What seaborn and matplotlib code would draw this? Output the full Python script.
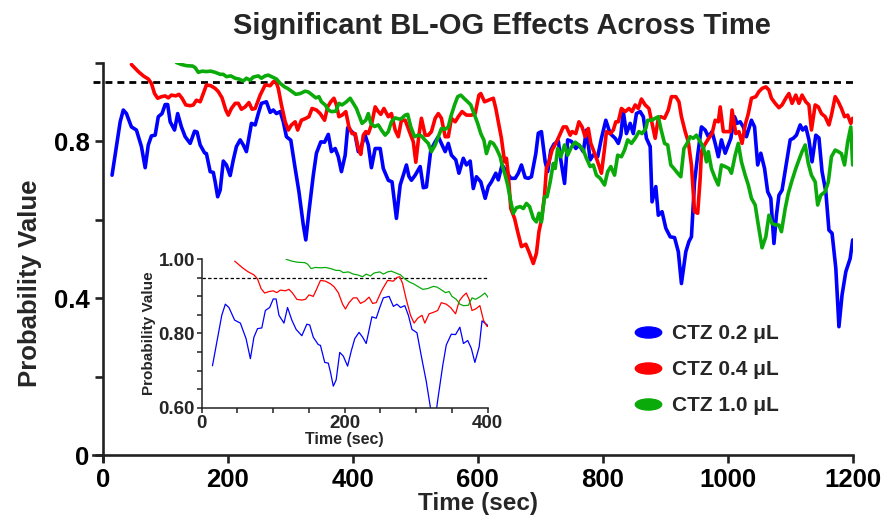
import numpy as np
import pandas as pd
import matplotlib
matplotlib.use("Agg")
import matplotlib.pyplot as plt
import seaborn as sns
from matplotlib.path import Path
from matplotlib.lines import Line2D
from matplotlib.ticker import MultipleLocator

# ---------------- data ----------------
series_names = ["CTZ 0.2 \u03bcL", "CTZ 0.4 \u03bcL", "CTZ 1.0 \u03bcL"]
series_colors = ["#0000FF", "#FF0000", "#0BAA0B"]

t_02 = [15, 28, 33, 38, 46, 54, 62, 68, 73, 78, 84, 89, 95, 100, 104, 108, 115, 120, 126, 132,
        140, 147, 151, 156, 163, 166, 172, 177, 180, 184, 188, 193, 198, 204, 209, 214, 220, 225, 230, 238,
        244, 249, 254, 262, 268, 273, 278, 284, 289, 294, 301, 308, 314, 321, 325, 330, 337, 342, 349, 355,
        361, 366, 372, 377, 382, 388, 392, 398, 404, 409, 413, 420, 425, 430, 436, 444, 449, 457, 463, 470,
        476, 481, 486, 490, 494, 500, 508, 513, 518, 525, 532, 537, 542, 548, 553, 558, 565, 570, 577, 582,
        588, 593, 598, 605, 612, 617, 622, 629, 633, 639, 646, 653, 660, 665, 670, 676, 681, 686, 693, 697,
        702, 708, 712, 717, 722, 729, 733, 739, 744, 750, 757, 762, 769, 774, 780, 785, 792, 798, 805, 812,
        820, 825, 829, 833, 838, 844, 849, 854, 860, 865, 870, 876, 879, 885, 889, 895, 901, 908, 915, 921,
        926, 933, 938, 942, 947, 952, 958, 964, 969, 975, 980, 985, 990, 996, 1000, 1005, 1011, 1015, 1020, 1025,
        1030, 1038, 1043, 1048, 1053, 1059, 1064, 1069, 1074, 1078, 1082, 1087, 1094, 1100, 1105, 1110, 1116, 1120, 1125, 1130,
        1135, 1141, 1146, 1151, 1157, 1162, 1167, 1173, 1178, 1183, 1189, 1196, 1200]
p_02 = [0.713, 0.849, 0.879, 0.870, 0.836, 0.828, 0.786, 0.732, 0.790, 0.813, 0.815, 0.862, 0.870, 0.893, 0.893, 0.849, 0.828, 0.870, 0.836, 0.811,
        0.794, 0.825, 0.823, 0.790, 0.770, 0.768, 0.722, 0.720, 0.696, 0.658, 0.675, 0.749, 0.739, 0.712, 0.752, 0.786, 0.803, 0.790, 0.773, 0.845,
        0.841, 0.870, 0.896, 0.900, 0.873, 0.879, 0.870, 0.875, 0.849, 0.811, 0.802, 0.730, 0.671, 0.586, 0.548, 0.620, 0.713, 0.769, 0.798, 0.797,
        0.817, 0.773, 0.781, 0.760, 0.722, 0.764, 0.834, 0.825, 0.815, 0.773, 0.783, 0.815, 0.790, 0.732, 0.781, 0.781, 0.730, 0.700, 0.696, 0.603,
        0.688, 0.713, 0.739, 0.710, 0.700, 0.713, 0.735, 0.681, 0.683, 0.777, 0.798, 0.811, 0.794, 0.773, 0.794, 0.764, 0.752, 0.718, 0.756, 0.739,
        0.749, 0.679, 0.709, 0.696, 0.654, 0.684, 0.696, 0.718, 0.701, 0.739, 0.722, 0.705, 0.705, 0.718, 0.739, 0.707, 0.705, 0.709, 0.768, 0.820,
        0.824, 0.747, 0.722, 0.777, 0.792, 0.800, 0.752, 0.692, 0.803, 0.799, 0.781, 0.790, 0.773, 0.828, 0.752, 0.765, 0.760, 0.807, 0.853, 0.819,
        0.807, 0.794, 0.815, 0.875, 0.819, 0.845, 0.819, 0.870, 0.875, 0.862, 0.807, 0.786, 0.645, 0.684, 0.611, 0.620, 0.578, 0.556, 0.554, 0.518,
        0.437, 0.518, 0.544, 0.556, 0.696, 0.764, 0.836, 0.828, 0.811, 0.824, 0.794, 0.760, 0.803, 0.769, 0.786, 0.807, 0.862, 0.845, 0.849, 0.836,
        0.811, 0.853, 0.836, 0.739, 0.769, 0.730, 0.671, 0.654, 0.539, 0.611, 0.662, 0.675, 0.743, 0.803, 0.807, 0.815, 0.841, 0.828, 0.836, 0.803,
        0.747, 0.815, 0.808, 0.722, 0.671, 0.573, 0.565, 0.476, 0.327, 0.408, 0.467, 0.501, 0.548]

t_04 = [46, 51, 57, 65, 73, 78, 83, 88, 94, 100, 105, 110, 117, 122, 127, 133, 140, 145, 150, 156,
        161, 166, 173, 180, 185, 191, 197, 201, 206, 212, 217, 222, 228, 234, 239, 244, 252, 260, 268, 273,
        277, 281, 286, 292, 297, 302, 308, 312, 318, 324, 330, 335, 342, 348, 355, 360, 365, 370, 374, 378,
        383, 389, 394, 399, 404, 409, 413, 417, 421, 425, 430, 436, 441, 445, 450, 457, 462, 468, 473, 478,
        484, 492, 497, 501, 506, 510, 516, 521, 526, 532, 537, 542, 548, 553, 558, 564, 569, 575, 582, 590,
        596, 602, 605, 611, 617, 625, 629, 633, 638, 643, 646, 649, 653, 659, 664, 670, 677, 682, 689, 694,
        698, 702, 707, 710, 714, 719, 725, 730, 737, 742, 748, 751, 757, 762, 767, 772, 777, 781, 787, 792,
        798, 803, 806, 812, 817, 821, 825, 830, 836, 842, 847, 852, 857, 862, 868, 874, 878, 884, 889, 893,
        899, 905, 910, 917, 922, 926, 932, 937, 942, 947, 952, 956, 958, 963, 968, 975, 980, 985, 988, 993,
        998, 1004, 1007, 1013, 1018, 1023, 1028, 1033, 1038, 1045, 1050, 1055, 1061, 1066, 1070, 1076, 1082, 1087, 1093, 1098,
        1103, 1109, 1114, 1119, 1125, 1130, 1134, 1140, 1145, 1150, 1156, 1162, 1166, 1172, 1177, 1182, 1187, 1192, 1197, 1200]
p_04 = [0.995, 0.987, 0.977, 0.966, 0.958, 0.947, 0.921, 0.909, 0.913, 0.915, 0.910, 0.917, 0.915, 0.919, 0.909, 0.892, 0.890, 0.892, 0.904, 0.900,
        0.921, 0.943, 0.941, 0.934, 0.926, 0.910, 0.879, 0.866, 0.883, 0.896, 0.896, 0.881, 0.887, 0.898, 0.881, 0.883, 0.917, 0.943, 0.941, 0.951,
        0.953, 0.934, 0.892, 0.849, 0.828, 0.841, 0.849, 0.828, 0.853, 0.857, 0.862, 0.883, 0.879, 0.870, 0.853, 0.887, 0.900, 0.909, 0.892, 0.862,
        0.866, 0.875, 0.836, 0.819, 0.819, 0.781, 0.766, 0.815, 0.824, 0.819, 0.841, 0.887, 0.875, 0.868, 0.883, 0.862, 0.870, 0.828, 0.811, 0.853,
        0.853, 0.819, 0.798, 0.746, 0.815, 0.858, 0.815, 0.815, 0.824, 0.858, 0.870, 0.858, 0.811, 0.811, 0.858, 0.849, 0.862, 0.875, 0.866, 0.866,
        0.870, 0.917, 0.921, 0.900, 0.904, 0.909, 0.883, 0.849, 0.807, 0.747, 0.756, 0.713, 0.628, 0.603, 0.569, 0.531, 0.537, 0.518, 0.488, 0.514,
        0.569, 0.599, 0.662, 0.730, 0.747, 0.777, 0.794, 0.811, 0.836, 0.836, 0.815, 0.824, 0.819, 0.849, 0.836, 0.811, 0.832, 0.794, 0.769, 0.747,
        0.718, 0.781, 0.824, 0.819, 0.828, 0.849, 0.849, 0.883, 0.875, 0.883, 0.875, 0.892, 0.883, 0.907, 0.892, 0.883, 0.853, 0.807, 0.858, 0.862,
        0.858, 0.879, 0.913, 0.913, 0.900, 0.862, 0.824, 0.798, 0.739, 0.620, 0.616, 0.705, 0.773, 0.790, 0.803, 0.819, 0.853, 0.849, 0.887, 0.824,
        0.824, 0.824, 0.879, 0.819, 0.824, 0.794, 0.841, 0.870, 0.909, 0.913, 0.926, 0.934, 0.938, 0.930, 0.909, 0.896, 0.885, 0.892, 0.909, 0.921,
        0.896, 0.917, 0.896, 0.917, 0.900, 0.892, 0.828, 0.892, 0.887, 0.870, 0.862, 0.841, 0.866, 0.913, 0.900, 0.883, 0.862, 0.866, 0.845, 0.858]

t_10 = [118, 126, 134, 144, 148, 153, 159, 166, 173, 180, 188, 193, 198, 205, 212, 218, 225, 230, 236, 241,
        249, 254, 260, 265, 273, 278, 284, 291, 296, 302, 309, 316, 324, 329, 334, 341, 346, 350, 356, 361,
        366, 373, 378, 383, 390, 396, 401, 406, 410, 415, 421, 425, 429, 435, 441, 446, 452, 457, 462, 468,
        474, 478, 484, 488, 493, 499, 505, 510, 516, 521, 526, 532, 537, 542, 548, 553, 557, 563, 568, 573,
        578, 584, 589, 595, 600, 605, 610, 614, 620, 625, 630, 636, 639, 644, 648, 653, 657, 662, 668, 673,
        678, 683, 689, 694, 698, 702, 707, 711, 716, 721, 724, 728, 733, 739, 744, 750, 756, 762, 769, 774,
        780, 785, 790, 796, 803, 808, 813, 819, 824, 830, 835, 840, 846, 852, 858, 863, 869, 872, 878, 884,
        889, 893, 899, 904, 909, 914, 920, 925, 930, 935, 940, 945, 950, 956, 961, 966, 969, 974, 980, 985,
        990, 996, 1002, 1006, 1012, 1017, 1022, 1028, 1033, 1038, 1044, 1049, 1055, 1061, 1066, 1071, 1077, 1082, 1086, 1092,
        1097, 1103, 1109, 1114, 1119, 1124, 1129, 1134, 1140, 1144, 1149, 1156, 1161, 1166, 1172, 1177, 1182, 1187, 1192, 1197, 1200]
p_10 = [1.000, 0.995, 0.992, 0.991, 0.987, 0.975, 0.978, 0.977, 0.978, 0.975, 0.970, 0.970, 0.964, 0.966, 0.960, 0.958, 0.953, 0.960, 0.955, 0.963,
        0.966, 0.960, 0.966, 0.968, 0.962, 0.958, 0.947, 0.938, 0.934, 0.927, 0.919, 0.921, 0.927, 0.925, 0.919, 0.910, 0.913, 0.900, 0.892, 0.879,
        0.875, 0.876, 0.896, 0.892, 0.900, 0.909, 0.896, 0.883, 0.866, 0.845, 0.853, 0.870, 0.845, 0.837, 0.841, 0.828, 0.815, 0.824, 0.849, 0.859,
        0.856, 0.857, 0.866, 0.868, 0.836, 0.811, 0.815, 0.813, 0.802, 0.794, 0.773, 0.790, 0.811, 0.832, 0.830, 0.836, 0.862, 0.892, 0.913, 0.917,
        0.909, 0.900, 0.892, 0.866, 0.845, 0.819, 0.802, 0.768, 0.798, 0.794, 0.781, 0.760, 0.739, 0.713, 0.688, 0.645, 0.616, 0.630, 0.633, 0.628,
        0.641, 0.633, 0.603, 0.594, 0.616, 0.594, 0.658, 0.658, 0.696, 0.743, 0.730, 0.781, 0.760, 0.790, 0.764, 0.785, 0.797, 0.790, 0.777, 0.756,
        0.735, 0.739, 0.713, 0.705, 0.688, 0.722, 0.735, 0.713, 0.764, 0.760, 0.777, 0.803, 0.794, 0.807, 0.824, 0.819, 0.832, 0.853, 0.853, 0.858,
        0.862, 0.832, 0.794, 0.790, 0.739, 0.730, 0.718, 0.709, 0.781, 0.794, 0.811, 0.807, 0.815, 0.798, 0.785, 0.747, 0.773, 0.730, 0.705, 0.688,
        0.739, 0.735, 0.730, 0.718, 0.764, 0.794, 0.747, 0.713, 0.688, 0.654, 0.637, 0.586, 0.528, 0.556, 0.611, 0.590, 0.586, 0.586, 0.569, 0.628,
        0.667, 0.700, 0.730, 0.752, 0.773, 0.790, 0.743, 0.713, 0.696, 0.637, 0.662, 0.671, 0.696, 0.760, 0.777, 0.773, 0.768, 0.739, 0.798, 0.836, 0.739]

threshold = 0.95

main_xticks = [0, 200, 400, 600, 800, 1000, 1200]
main_yticks = [0, 0.2, 0.4, 0.6, 0.8, 1.0]
main_ylabels = ["0", "", "0.4", "", "0.8", ""]
inset_xticks = [0, 200, 400]
inset_yticks = [0.60, 0.80, 1.00]
inset_ylabels = ["0.60", "0.80", "1.00"]

df = pd.concat([
    pd.DataFrame({"time": t_02, "prob": p_02, "series": series_names[0]}),
    pd.DataFrame({"time": t_04, "prob": p_04, "series": series_names[1]}),
    pd.DataFrame({"time": t_10, "prob": p_10, "series": series_names[2]}),
], ignore_index=True)
palette = dict(zip(series_names, series_colors))

# ---------------- style ----------------
sns.set_style("ticks")
plt.rcParams["font.family"] = ["Liberation Sans", "DejaVu Sans"]
plt.rcParams["font.weight"] = "bold"
plt.rcParams["axes.labelweight"] = "bold"
ink = "#222222"

fig = plt.figure(figsize=(8.86, 5.22), dpi=100)

# ---------------- main axes ----------------
ax = fig.add_axes([0.1053, 0.1170, 0.8571, 0.7632])
sns.lineplot(data=df, x="time", y="prob", hue="series", palette=palette,
             estimator=None, sort=False, lw=2.6, legend=False, ax=ax)
ax.axhline(threshold, color="black", lw=2.0, ls=(0, (2.5, 1.8)), zorder=1)
ax.set_xlim(-15, 1200)
ax.set_ylim(-0.015, 1.0)
ax.spines["left"].set_position(("data", 0))
ax.spines["bottom"].set_position(("data", 0))
for s in ["top", "right"]:
    ax.spines[s].set_visible(False)
for s in ["left", "bottom"]:
    ax.spines[s].set_linewidth(1.9)
    ax.spines[s].set_color(ink)
ax.set_xticks(main_xticks)
ax.set_xticklabels([str(v) for v in main_xticks])
ax.set_yticks(main_yticks)
ax.set_yticklabels(main_ylabels)
ax.tick_params(axis="both", length=6, width=1.9, color=ink, labelsize=18.5,
               labelcolor="black", pad=3.5)
ax.set_xlabel("Time (sec)", fontsize=17.5, fontweight="bold")
ax.set_ylabel("Probability Value", fontsize=18.5, fontweight="bold")
ax.xaxis.set_label_coords(0.506, -0.1057)
ax.xaxis.label.set_va("center")
ax.yaxis.set_label_coords(-0.084, 0.4466)
ax.yaxis.label.set_va("center")

# ---------------- legend ----------------
ell = Path.unit_circle()
ell = Path(ell.vertices * np.array([1.0, 0.42]), ell.codes)
handles = [Line2D([], [], ls="none", marker=ell, markersize=19,
                  markerfacecolor=c, markeredgecolor=c) for c in series_colors]
fig.legend(handles, series_names, loc="upper left",
           bbox_to_anchor=(634 / 886, 1 - 324 / 522), frameon=False,
           handlelength=1.3, handletextpad=0.5,
           labelspacing=0.82, borderpad=0, borderaxespad=0,
           prop={"weight": "bold", "size": 15})

# ---------------- inset ----------------
axin = fig.add_axes([0.2277, 0.219, 0.3228, 0.2843])
axin.set_facecolor("none")
sns.lineplot(data=df, x="time", y="prob", hue="series", palette=palette,
             estimator=None, sort=False, lw=0.9, legend=False, ax=axin)
axin.axhline(threshold, color="black", lw=0.9, ls=(0, (2.7, 1.8)), zorder=1)
axin.set_xlim(0, 400)
axin.set_ylim(0.60, 1.00)
for s in ["top", "right"]:
    axin.spines[s].set_visible(False)
for s in ["left", "bottom"]:
    axin.spines[s].set_linewidth(1.1)
    axin.spines[s].set_color(ink)
axin.set_xticks(inset_xticks)
axin.set_xticklabels([str(v) for v in inset_xticks])
axin.set_yticks(inset_yticks)
axin.set_yticklabels(inset_ylabels)
axin.xaxis.set_minor_locator(MultipleLocator(50))
axin.yaxis.set_minor_locator(MultipleLocator(0.05))
axin.tick_params(axis="both", which="major", length=3.5, width=1.1, color=ink,
                 labelsize=13.5, pad=1.5)
axin.tick_params(axis="both", which="minor", length=3.5, width=1.1, color=ink)
axin.set_xlabel("Time (sec)", fontsize=11.5, fontweight="bold", labelpad=0)
axin.set_ylabel("Probability Value", fontsize=11, fontweight="bold", labelpad=2)

# ---------------- title ----------------
fig.text(502 / 886, 1 - 26 / 522, "Significant BL-OG Effects Across Time",
         ha="center", va="center", fontsize=21, fontweight="bold", color="#262626")

fig.savefig("out.png", dpi=100)
